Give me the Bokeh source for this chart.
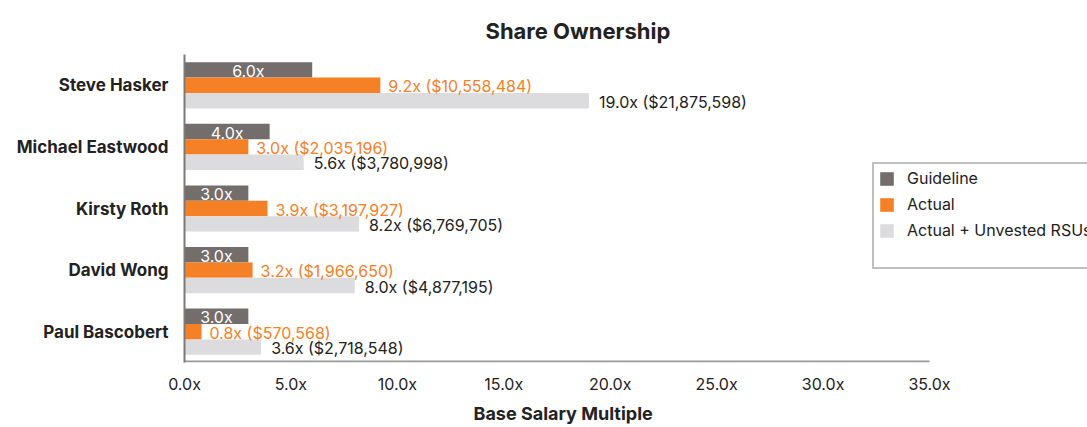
from bokeh.plotting import figure
from bokeh.models import (FactorRange, Legend, LegendItem, ColumnDataSource, LabelSet,
                          CustomJSTickFormatter, FixedTicker, Range1d, Title)
from bokeh.transform import dodge
from bokeh.core.properties import value
from bokeh.embed import file_html
from bokeh.resources import INLINE

names = ["Steve Hasker", "Michael Eastwood", "Kirsty Roth", "David Wong", "Paul Bascobert"]
guideline = [6.0, 4.0, 3.0, 3.0, 3.0]
actual = [9.2, 3.0, 3.9, 3.2, 0.8]
actual_dollars = ["$10,558,484", "$2,035,196", "$3,197,927", "$1,966,650", "$570,568"]
unvested = [19.0, 5.6, 8.2, 8.0, 3.6]
unvested_dollars = ["$21,875,598", "$3,780,998", "$6,769,705", "$4,877,195", "$2,718,548"]
x_ticks = [0, 5, 10, 15, 20, 25, 30, 35]

C_GUIDE = "#736e6c"
C_ACTUAL = "#f58025"
C_UNVEST = "#dcdcde"
C_TEXT = "#222222"
FONT = "Inter"

W, H = 1087, 427
FRAME_L, AXIS_R, FRAME_T, FRAME_B = 184, 929, 54, 364

src = ColumnDataSource(dict(
    name=names,
    guideline=guideline,
    guide_mid=[g / 2 for g in guideline],
    guide_lbl=[f"{g:.1f}x" for g in guideline],
    actual=actual,
    actual_lbl=[f"{a:.1f}x ({d})" for a, d in zip(actual, actual_dollars)],
    unvested=unvested,
    unvested_lbl=[f"{u:.1f}x ({d})" for u, d in zip(unvested, unvested_dollars)],
))

# frame extends to the right edge so the legend can overhang the axis end
x_end = x_ticks[-1] * (W - FRAME_L) / (AXIS_R - FRAME_L)

p = figure(width=W, height=H, output_backend="svg", toolbar_location=None,
           y_range=FactorRange(factors=list(reversed(names))),
           x_range=Range1d(0, x_end),
           min_border_left=FRAME_L, min_border_right=0,
           min_border_top=FRAME_T, min_border_bottom=H - FRAME_B)
p.outline_line_color = None
p.xgrid.visible = False
p.ygrid.visible = False

title = Title(text="Share Ownership", align="left", offset=301, standoff=22,
              text_font=FONT, text_font_size="22px", text_font_style="bold",
              text_color=C_TEXT)
p.add_layout(title, "above")

yg = dodge("name", 0.25, range=p.y_range)
ya = dodge("name", 0.0, range=p.y_range)
yu = dodge("name", -0.25, range=p.y_range)

rg = p.hbar(y=yg, left=0, right="guideline", height=0.25, source=src, color=C_GUIDE, line_color=None)
ra = p.hbar(y=ya, left=0, right="actual", height=0.25, source=src, color=C_ACTUAL, line_color=None)
ru = p.hbar(y=yu, left=0, right="unvested", height=0.25, source=src, color=C_UNVEST, line_color=None)
rd = p.hbar(y=[], left=[], right=[], height=0.25, fill_alpha=0, line_alpha=0)

# x axis baseline, from 0 to the last tick
base_src = ColumnDataSource(dict(name=[names[-1]], x0=[x_ticks[0]], x1=[x_ticks[-1]]))
yb = dodge("name", -0.485, range=p.y_range)
p.segment(x0="x0", x1="x1", y0=yb, y1=yb, source=base_src, line_color="#9a9a9a", line_width=2)

p.add_layout(LabelSet(x="guide_mid", y=yg, text="guide_lbl", source=src, text_align="center",
                      text_baseline="middle", text_color="white", text_font=value(FONT),
                      text_font_size="16px", y_offset=-1))
p.add_layout(LabelSet(x="actual", y=ya, text="actual_lbl", source=src, text_align="left",
                      text_baseline="middle", text_color=C_ACTUAL, text_font=value(FONT),
                      text_font_size="16px", x_offset=8, y_offset=-1))
p.add_layout(LabelSet(x="unvested", y=yu, text="unvested_lbl", source=src, text_align="left",
                      text_baseline="middle", text_color=C_TEXT, text_font=value(FONT),
                      text_font_size="16px", x_offset=10, y_offset=-1))

# axes
p.xaxis.ticker = FixedTicker(ticks=x_ticks)
p.xaxis.formatter = CustomJSTickFormatter(code="return tick.toFixed(1) + 'x';")
p.xaxis.major_tick_line_color = None
p.xaxis.minor_tick_line_color = None
p.xaxis.major_tick_out = 0
p.xaxis.minor_tick_out = 0
p.xaxis.axis_line_color = None
p.xaxis.major_label_text_font = FONT
p.xaxis.major_label_text_font_size = "16px"
p.xaxis.major_label_text_color = C_TEXT
p.xaxis.major_label_standoff = 11

xlabel = Title(text="Base Salary Multiple", align="left", offset=289, standoff=8,
               text_font=FONT, text_font_size="18px", text_font_style="bold",
               text_color=C_TEXT)
p.add_layout(xlabel, "below")

p.yaxis.major_tick_line_color = None
p.yaxis.minor_tick_line_color = None
p.yaxis.major_tick_out = 0
p.yaxis.minor_tick_out = 0
p.yaxis.axis_line_color = "#7a7a7a"
p.yaxis.axis_line_width = 2
p.yaxis.major_label_text_font = FONT
p.yaxis.major_label_text_font_size = "17px"
p.yaxis.major_label_text_font_style = "bold"
p.yaxis.major_label_text_color = C_TEXT
p.yaxis.major_label_standoff = 16

legend = Legend(items=[
    LegendItem(label="Guideline", renderers=[rg]),
    LegendItem(label="Actual", renderers=[ra]),
    LegendItem(label="Actual + Unvested RSUs", renderers=[ru]),
    LegendItem(label=" ", renderers=[rd]),
], location=(872 - FRAME_L, FRAME_B - 271), orientation="vertical")
legend.border_line_color = "#7f7f7f"
legend.border_line_width = 2
legend.background_fill_color = "white"
legend.background_fill_alpha = 1
legend.glyph_width = 17
legend.glyph_height = 17
legend.label_height = 17
legend.label_standoff = 12
legend.spacing = 6
legend.padding = 4
legend.margin = 0
legend.label_text_font = FONT
legend.label_text_font_size = "16px"
legend.label_text_color = C_TEXT
p.add_layout(legend)

open("out.html", "w").write(file_html(p, INLINE))
